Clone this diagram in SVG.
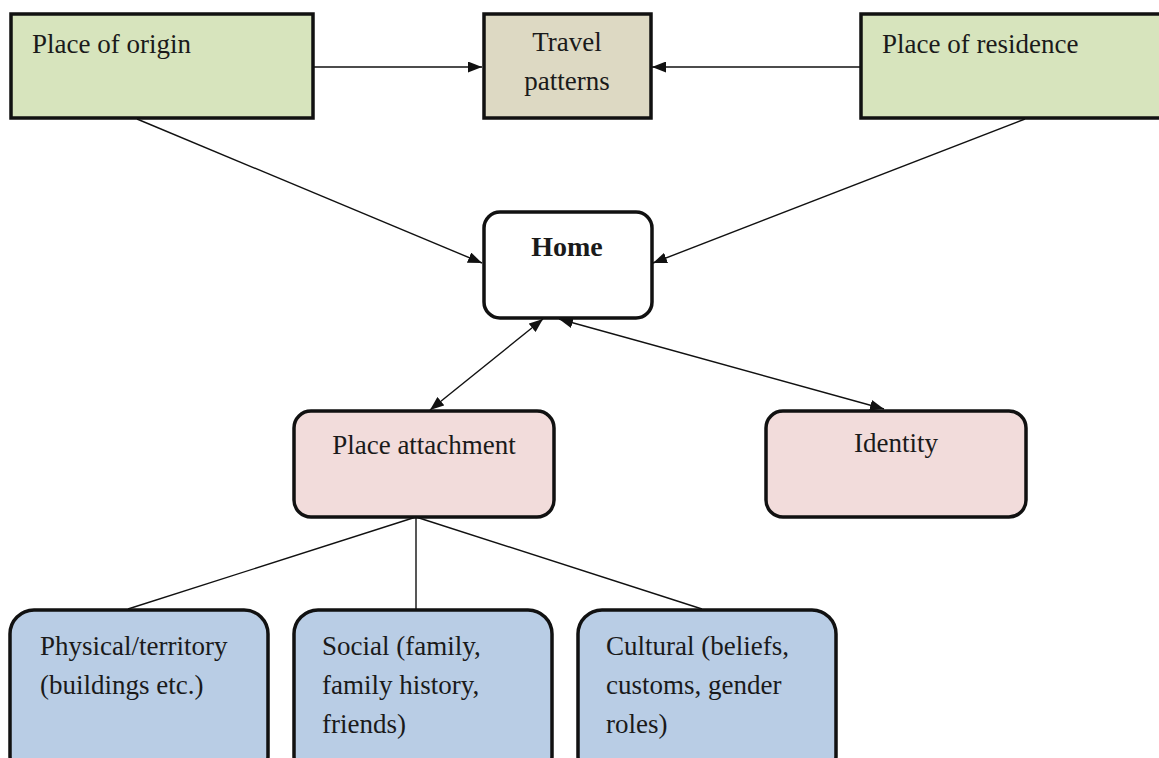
<svg xmlns="http://www.w3.org/2000/svg" width="1159" height="758" viewBox="0 0 1159 758">
<style>
.box{stroke:#111;stroke-width:3.5}
.green{fill:#d7e4bd}
.tan{fill:#ddd9c3}
.white{fill:#fff}
.pink{fill:#f2dcdb}
.blue{fill:#b9cde5}
text{font-family:"Liberation Serif","Times New Roman",serif;font-size:27px;fill:#1a1a1a}
.c{text-anchor:middle}
.b{font-weight:bold;font-size:28px}
.ln{stroke:#111;stroke-width:1.4;fill:none}
</style>
<defs>
<marker id="ah" viewBox="0 0 14 11" refX="14" refY="5.5" markerWidth="14" markerHeight="11" markerUnits="userSpaceOnUse" orient="auto-start-reverse">
<path d="M0,0 L14,5.5 L0,11 Z" fill="#111"/>
</marker>
</defs>
<rect width="1159" height="758" fill="#fff"/>
<g id="connectors">
<line class="ln" x1="313" y1="67" x2="482" y2="67" marker-end="url(#ah)"/>
<line class="ln" x1="861" y1="67" x2="652" y2="67" marker-end="url(#ah)"/>
<line class="ln" x1="137" y1="119" x2="482" y2="263" marker-end="url(#ah)"/>
<line class="ln" x1="1025" y1="119" x2="653" y2="263" marker-end="url(#ah)"/>
<line class="ln" x1="543" y1="319" x2="430" y2="410" marker-start="url(#ah)" marker-end="url(#ah)"/>
<line class="ln" x1="559" y1="319" x2="884" y2="409" marker-start="url(#ah)" marker-end="url(#ah)"/>
<line class="ln" x1="416" y1="517" x2="128" y2="609"/>
<line class="ln" x1="416" y1="517" x2="416" y2="609"/>
<line class="ln" x1="416" y1="517" x2="702" y2="609"/>
</g>
<g id="place-of-origin">
<rect class="box green" x="11" y="14" width="302" height="104"/>
<text x="32" y="53">Place of origin</text>
</g>
<g id="travel-patterns">
<rect class="box tan" x="484" y="14" width="167" height="104"/>
<text class="c" x="567" y="51">Travel</text>
<text class="c" x="567" y="90">patterns</text>
</g>
<g id="place-of-residence">
<rect class="box green" x="861" y="14" width="310" height="104"/>
<text x="882" y="53">Place of residence</text>
</g>
<g id="home">
<rect class="box white" x="484" y="212" width="168" height="106" rx="16"/>
<text class="c b" x="567" y="256">Home</text>
</g>
<g id="place-attachment">
<rect class="box pink" x="294" y="411" width="260" height="106" rx="17"/>
<text class="c" x="424" y="454">Place attachment</text>
</g>
<g id="identity">
<rect class="box pink" x="766" y="411" width="260" height="106" rx="17"/>
<text class="c" x="896" y="452">Identity</text>
</g>
<g id="physical">
<rect class="box blue" x="10" y="610" width="258" height="170" rx="24"/>
<text x="40" y="655">Physical/territory</text>
<text x="40" y="694">(buildings etc.)</text>
</g>
<g id="social">
<rect class="box blue" x="294" y="610" width="258" height="170" rx="24"/>
<text x="322" y="655">Social (family,</text>
<text x="322" y="694">family history,</text>
<text x="322" y="733">friends)</text>
</g>
<g id="cultural">
<rect class="box blue" x="578" y="610" width="258" height="170" rx="24"/>
<text x="606" y="655">Cultural (beliefs,</text>
<text x="606" y="694">customs, gender</text>
<text x="606" y="733">roles)</text>
</g>
</svg>
